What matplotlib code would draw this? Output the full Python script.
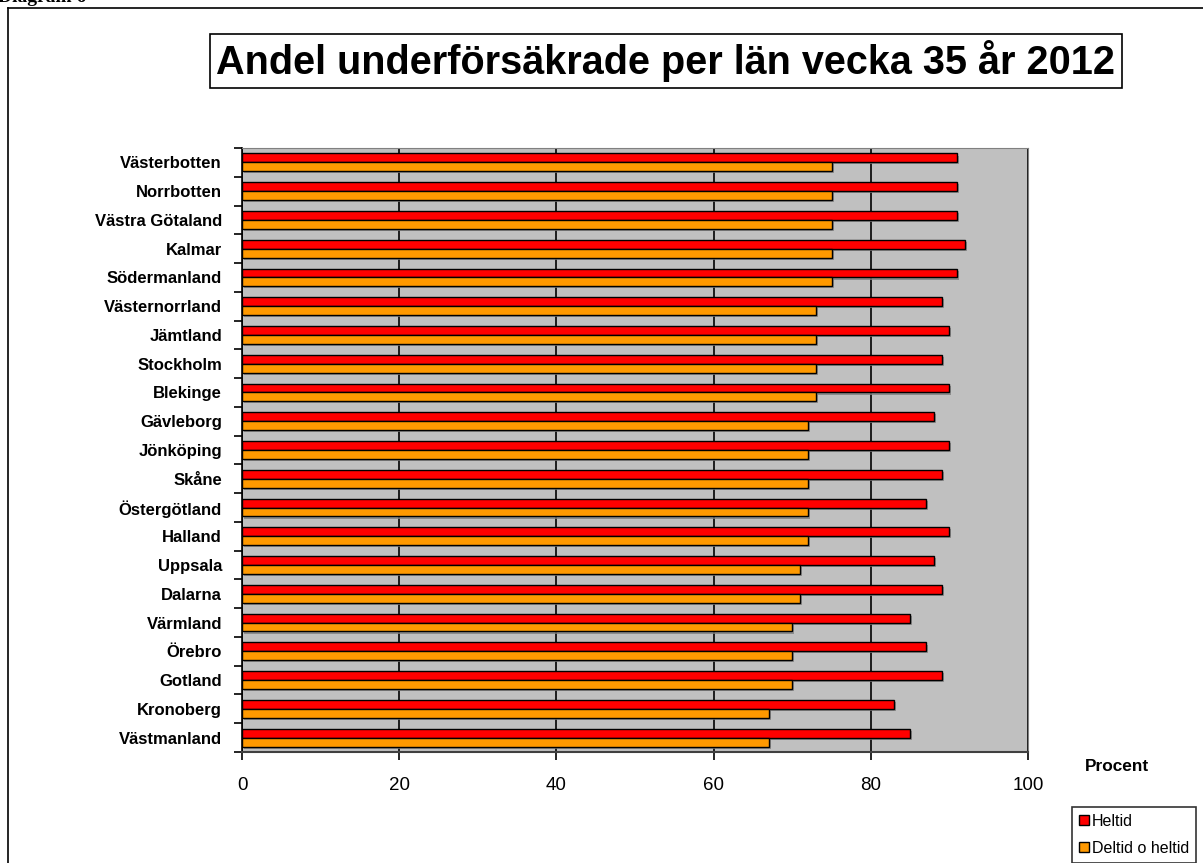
import numpy as np
import matplotlib
matplotlib.use("Agg")
from matplotlib import pyplot as plt
from matplotlib.lines import Line2D
from matplotlib.patches import Patch, Rectangle
import matplotlib.patheffects as pe

plt.rcParams['font.family'] = ['Liberation Sans', 'DejaVu Sans']

# data, top to bottom as in the chart
lan = ['Västerbotten', 'Norrbotten', 'Västra Götaland', 'Kalmar', 'Södermanland',
       'Västernorrland', 'Jämtland', 'Stockholm', 'Blekinge', 'Gävleborg',
       'Jönköping', 'Skåne', 'Östergötland', 'Halland', 'Uppsala', 'Dalarna',
       'Värmland', 'Örebro', 'Gotland', 'Kronoberg', 'Västmanland']
heltid = [91, 91, 91, 92, 91, 89, 90, 89, 90, 88, 90, 89, 87, 90, 88, 89, 85, 87, 89, 83, 85]
deltid_heltid = [75, 75, 75, 75, 75, 73, 73, 73, 73, 72, 72, 72, 72, 72, 71, 71, 70, 70, 70, 67, 67]
x_ticks = [0, 20, 40, 60, 80, 100]

W, H = 1203, 863
fig = plt.figure(figsize=(W / 100, H / 100), dpi=100)
ax = fig.add_axes([242 / W, 1 - 752 / H, (1028 - 242) / W, (752 - 148) / H])
ax.set_facecolor('#C0C0C0')

y = np.arange(len(lan))
h = 0.31
shadow = [pe.SimplePatchShadow(offset=(1.5, -1.5), shadow_rgbFace='#808080', alpha=0.8), pe.Normal()]
b1 = ax.barh(y - h / 2, heltid, height=h, color='#FF0000', edgecolor='black', linewidth=1, zorder=3)
b2 = ax.barh(y + h / 2, deltid_heltid, height=h, color='#FF9900', edgecolor='black', linewidth=1, zorder=3)
for b in list(b1) + list(b2):
    b.set_path_effects(shadow)

ax.set_xlim(0, 100)
ax.set_ylim(len(lan) - 0.5, -0.5)
ax.set_xticks(x_ticks)
ax.set_xticklabels([str(v) for v in x_ticks], fontsize=13.5)
ax.tick_params(axis='x', direction='out', length=6, width=1.2, pad=12)
ax.xaxis.grid(True, color='black', linewidth=1.2, zorder=1)
ax.set_axisbelow(True)

# tick marks between categories, labels at centres
ax.set_yticks(np.arange(-0.5, len(lan), 1))
ax.set_yticklabels([])
ax.tick_params(axis='y', which='major', direction='out', length=6, width=1.2)
ax.set_yticks(y, minor=True)
ax.set_yticklabels(lan, minor=True, fontsize=12, fontweight='bold')
ax.tick_params(axis='y', which='minor', length=0, pad=14.4)

for s in ['top', 'right']:
    ax.spines[s].set_color('#808080')
ax.spines['left'].set_linewidth(1.2)
ax.spines['bottom'].set_linewidth(1.5)
ax.spines['bottom'].set_color('#404040')

# title in its own box
fig.add_artist(Rectangle((210 / W, 1 - 88 / H), (1122 - 210) / W, (88 - 34) / H,
                         facecolor='white', edgecolor='black', linewidth=1.2,
                         transform=fig.transFigure))
fig.text(665 / W, 1 - 61 / H, 'Andel underförsäkrade per län vecka 35 år 2012',
         ha='center', va='center', fontsize=28.5, fontweight='bold')

fig.text(1085 / W, 1 - 766 / H, 'Procent', ha='left', va='center', fontsize=12.4, fontweight='bold')

fig.text(-2 / W, 1 - 2 / H, 'Diagram 6', ha='left', va='baseline', fontsize=14,
         fontweight='bold', family='Liberation Serif')

# outer frame lines
fig.add_artist(Line2D([8 / W, 8 / W], [0, 1 - 8 / H], color='black', linewidth=1.2, transform=fig.transFigure))
fig.add_artist(Line2D([8 / W, 1], [1 - 8 / H, 1 - 8 / H], color='black', linewidth=1.2, transform=fig.transFigure))

handles = [Patch(facecolor='#FF0000', edgecolor='black', label='Heltid'),
           Patch(facecolor='#FF9900', edgecolor='black', label='Deltid o heltid')]
leg = fig.legend(handles=handles, loc='lower left', bbox_to_anchor=(1072 / W, 0),
                 fontsize=11.5, frameon=True, fancybox=False, handlelength=0.6, handleheight=0.6,
                 handletextpad=0.2, labelspacing=0.75, borderpad=0.45, borderaxespad=0)
leg.get_frame().set_edgecolor('black')
leg.get_frame().set_linewidth(1.2)

fig.savefig('out.png', dpi=100)
